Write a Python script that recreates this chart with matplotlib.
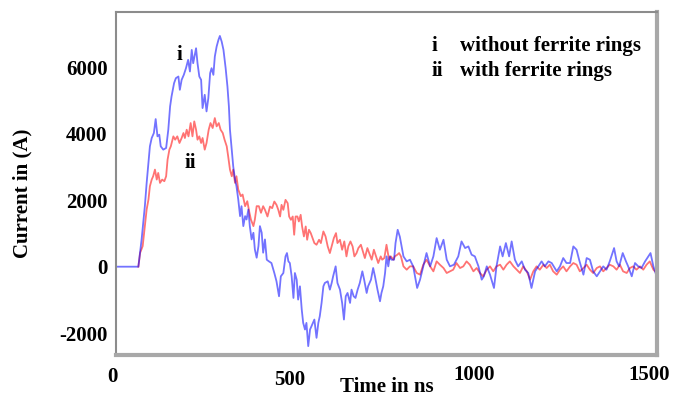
import matplotlib
matplotlib.use('Agg')
import matplotlib.pyplot as plt
from matplotlib.transforms import offset_copy

plt.rcParams['font.family'] = ['Liberation Serif', 'DejaVu Serif']
plt.rcParams['font.weight'] = 'bold'

# current without ferrite rings (i)
t_blue = [0, 62, 71, 80, 85, 90, 94, 99, 105, 110, 115, 120, 124, 131, 139, 145, 150, 154,
          161, 166, 173, 177, 182, 188, 194, 200, 205, 210, 214, 222, 226, 231, 236, 240,
          246, 251, 256, 261, 265, 270, 274, 279, 284, 288, 293, 298, 304, 309, 313, 316,
          321, 325, 330, 334, 339, 344, 348, 353, 358, 362, 367, 371, 376, 381, 385, 390,
          395, 399, 404, 408, 413, 418, 424, 431, 439, 445, 452, 457, 464, 470, 474, 478,
          482, 487, 492, 496, 501, 505, 510, 515, 519, 524, 528, 533, 538, 542, 550, 556,
          561, 565, 570, 575, 579, 587, 593, 598, 602, 609, 614, 621, 627, 632, 637, 642,
          649, 653, 659, 664, 670, 676, 683, 688, 695, 699, 707, 713, 718, 725, 732, 736,
          741, 746, 750, 755, 759, 764, 771, 775, 781, 787, 797, 806, 815, 824, 835, 843,
          852, 861, 871, 880, 889, 898, 908, 917, 926, 937, 949, 958, 968, 977, 986, 995,
          1005, 1014, 1020, 1028, 1037, 1048, 1055, 1065, 1072, 1081, 1090, 1097, 1106,
          1115, 1125, 1134, 1143, 1152, 1162, 1171, 1180, 1189, 1199, 1208, 1222, 1231,
          1240, 1249, 1259, 1268, 1277, 1284, 1296, 1305, 1314, 1323, 1333, 1342, 1351,
          1360, 1369, 1381, 1388, 1395, 1405, 1414, 1420, 1430, 1439, 1448, 1457, 1467,
          1476, 1482, 1490, 1499]
i_blue = [0, 0, 820, 1820, 2520, 3120, 3620, 3870, 4020, 4440, 3920, 3970, 3620, 3520, 3570,
          4120, 4820, 5120, 5520, 5670, 5720, 5320, 5620, 5770, 5970, 6220, 5870, 6520, 6120,
          6570, 6120, 5720, 5620, 4770, 5170, 4670, 5070, 5820, 5970, 5770, 6320, 6620, 6820,
          6940, 6770, 6520, 5970, 5420, 4820, 4120, 3520, 3020, 2620, 2420, 2020, 1520, 1820,
          1220, 1520, 1420, 1720, 1220, 820, 1020, 520, 270, 620, 1220, 1020, 420, 820, 210,
          160, 110, -190, -440, -890, -290, -190, 310, 410, 160, 110, -290, -940, -190, -390,
          -990, -590, -1290, -1690, -1890, -1690, -2390, -1890, -1790, -1590, -2140, -1690,
          -1490, -1090, -590, -490, -440, -690, -490, -290, 10, -490, -690, -1090, -1590,
          -890, -790, -1090, -690, -890, -940, -690, -490, -140, -390, -790, -590, -390, -40,
          -290, -690, -1040, -790, -590, -190, 310, 10, 310, 210, 210, 710, 1110, 900, 310,
          160, 210, 10, -640, -390, 10, 410, 10, 310, 860, 510, 810, 210, 10, 60, 310, 760,
          560, 610, 360, 310, 10, -390, -290, 10, -240, -640, 10, 610, 310, 710, 310, 760,
          210, 10, 160, -90, -190, -640, -140, 10, 160, 10, 160, 110, -140, 10, 260, 110, 110,
          610, 510, 210, -240, 260, 210, -140, -290, -140, 10, -90, 160, 560, 160, 10, 410,
          160, 10, -290, 110, 10, -40, 160, 310, 410, 10, -290]

# current with ferrite rings (ii)
t_red = [62, 67, 74, 80, 85, 90, 94, 99, 103, 108, 113, 117, 122, 128, 134, 139, 143, 148,
         152, 159, 164, 170, 176, 182, 187, 191, 196, 201, 207, 212, 217, 222, 226, 231, 236,
         240, 246, 251, 257, 262, 268, 274, 279, 285, 290, 296, 301, 307, 311, 316, 321, 325,
         330, 334, 339, 346, 351, 358, 364, 370, 374, 381, 385, 390, 396, 402, 408, 413, 420,
         427, 433, 439, 445, 450, 455, 459, 464, 470, 476, 480, 485, 490, 494, 498, 503, 507,
         512, 516, 521, 526, 530, 535, 540, 545, 550, 556, 563, 568, 575, 581, 587, 593, 598,
         604, 610, 614, 621, 627, 633, 639, 644, 650, 656, 661, 667, 672, 679, 686, 690, 697,
         702, 709, 715, 721, 727, 734, 738, 744, 750, 757, 762, 769, 773, 780, 785, 790, 797,
         806, 815, 824, 834, 843, 852, 861, 871, 880, 889, 898, 908, 917, 926, 935, 944, 954,
         963, 972, 981, 991, 1000, 1009, 1018, 1028, 1037, 1046, 1055, 1065, 1074, 1083, 1092,
         1102, 1111, 1120, 1129, 1139, 1148, 1157, 1166, 1175, 1185, 1194, 1203, 1212, 1222,
         1231, 1240, 1249, 1259, 1268, 1277, 1286, 1296, 1305, 1314, 1323, 1333, 1342, 1351,
         1360, 1369, 1379, 1388, 1397, 1406, 1416, 1425, 1434, 1443, 1453, 1462, 1471, 1480,
         1490, 1499]
i_red = [0, 420, 620, 1220, 1720, 2020, 2420, 2620, 2720, 2920, 2620, 2820, 2520, 2620, 2570,
         2720, 3220, 3520, 3620, 3920, 3820, 3920, 3720, 3870, 4020, 3870, 4120, 3920, 4320,
         3920, 4370, 4120, 3820, 3920, 3720, 3870, 3520, 3720, 4120, 4320, 4170, 4470, 4220,
         4320, 4120, 4020, 3820, 3620, 3320, 2920, 2720, 2920, 2520, 2720, 2320, 2120, 2170,
         1820, 1970, 1620, 1420, 1220, 1420, 1820, 1820, 1620, 1820, 1710, 1510, 1810, 1760,
         1960, 1860, 1710, 1510, 1860, 1710, 2010, 1910, 1510, 1410, 1510, 960, 1510, 1510,
         1360, 1560, 1210, 910, 1210, 810, 1110, 1010, 860, 710, 660, 810, 710, 1060, 910, 610,
         410, 610, 860, 1010, 710, 810, 510, 760, 310, 610, 760, 610, 310, 410, 560, 660, 410,
         260, 560, 410, 210, 510, 310, 110, 310, 210, 260, 660, 210, 310, 210, 310, 360, 410,
         310, 10, -90, 10, 10, -190, -240, 60, 210, 10, -140, 160, 60, -40, -190, -140, -90,
         110, -40, 10, 160, 60, -140, -40, -190, -290, -90, 10, -140, 10, 60, -90, 60, 160, 10,
         -90, -190, 10, -140, -390, -140, 10, -90, 60, -40, 60, -140, -240, -90, 10, -140, 10,
         110, 60, -140, -40, 60, -90, -190, -40, 10, -140, -40, 60, 10, -90, 60, -140, -190,
         -40, 10, -90, 10, -90, 60, 160, -90, -190]

x_ticks = [0, 500, 1000, 1500]
y_ticks = [-2000, 0, 2000, 4000, 6000]

fig = plt.figure(figsize=(6.74, 3.96), dpi=100)
ax = fig.add_axes([116 / 674, 1 - 355 / 396, 541 / 674, 343.3 / 396])

ax.plot(t_red, i_red, color='#ff0000', alpha=0.55, lw=1.3)
ax.plot(t_blue, i_blue, color='#0000ff', alpha=0.55, lw=1.3)

ax.set_xlim(0, 1500)
ax.set_ylim(-2656, 7669)

# frame: thin grey top/left, heavier shadowed right/bottom
for side in ['top', 'left']:
    ax.spines[side].set_color('#8c8c8c')
    ax.spines[side].set_linewidth(1.5)
for side in ['right', 'bottom']:
    ax.spines[side].set_color('#a8a8a8')
    ax.spines[side].set_linewidth(3)

ax.set_yticks(y_ticks)
ax.set_yticklabels([str(v) for v in y_ticks], fontsize=15, fontweight='bold')
ax.tick_params(axis='y', length=0, pad=6)
ax.set_xticks([])

# x tick labels sit a little staggered below the frame
dx = [-4, -7, -3, -8]
dy = [-27, -30, -25, -25]
for xt, ox, oy in zip(x_ticks, dx, dy):
    tr = offset_copy(ax.get_xaxis_transform(), fig=fig, x=ox, y=oy, units='dots')
    ax.text(xt, 0, str(xt), transform=tr, ha='center', va='baseline',
            fontsize=15, fontweight='bold')

fig.text(340 / 674, 1 - 392 / 396, 'Time in ns', ha='left', va='baseline',
         fontsize=15, fontweight='bold')
fig.text(22 / 674, 1 - 193 / 396, 'Current in (A)', rotation=90, ha='center',
         va='center', fontsize=15, fontweight='bold')

# curve markers
fig.text(177 / 674, 1 - 60 / 396, 'i', ha='left', va='baseline', fontsize=15, fontweight='bold')
fig.text(185 / 674, 1 - 168 / 396, 'ii', ha='left', va='baseline', fontsize=15, fontweight='bold')

# key
fig.text(432 / 674, 1 - 51 / 396, 'i', ha='left', va='baseline', fontsize=15, fontweight='bold')
fig.text(460 / 674, 1 - 51 / 396, 'without ferrite rings', ha='left', va='baseline',
         fontsize=15, fontweight='bold')
fig.text(432 / 674, 1 - 76 / 396, 'ii', ha='left', va='baseline', fontsize=15, fontweight='bold')
fig.text(460 / 674, 1 - 76 / 396, 'with ferrite rings', ha='left', va='baseline',
         fontsize=15, fontweight='bold')

fig.savefig('out.png', dpi=100)
